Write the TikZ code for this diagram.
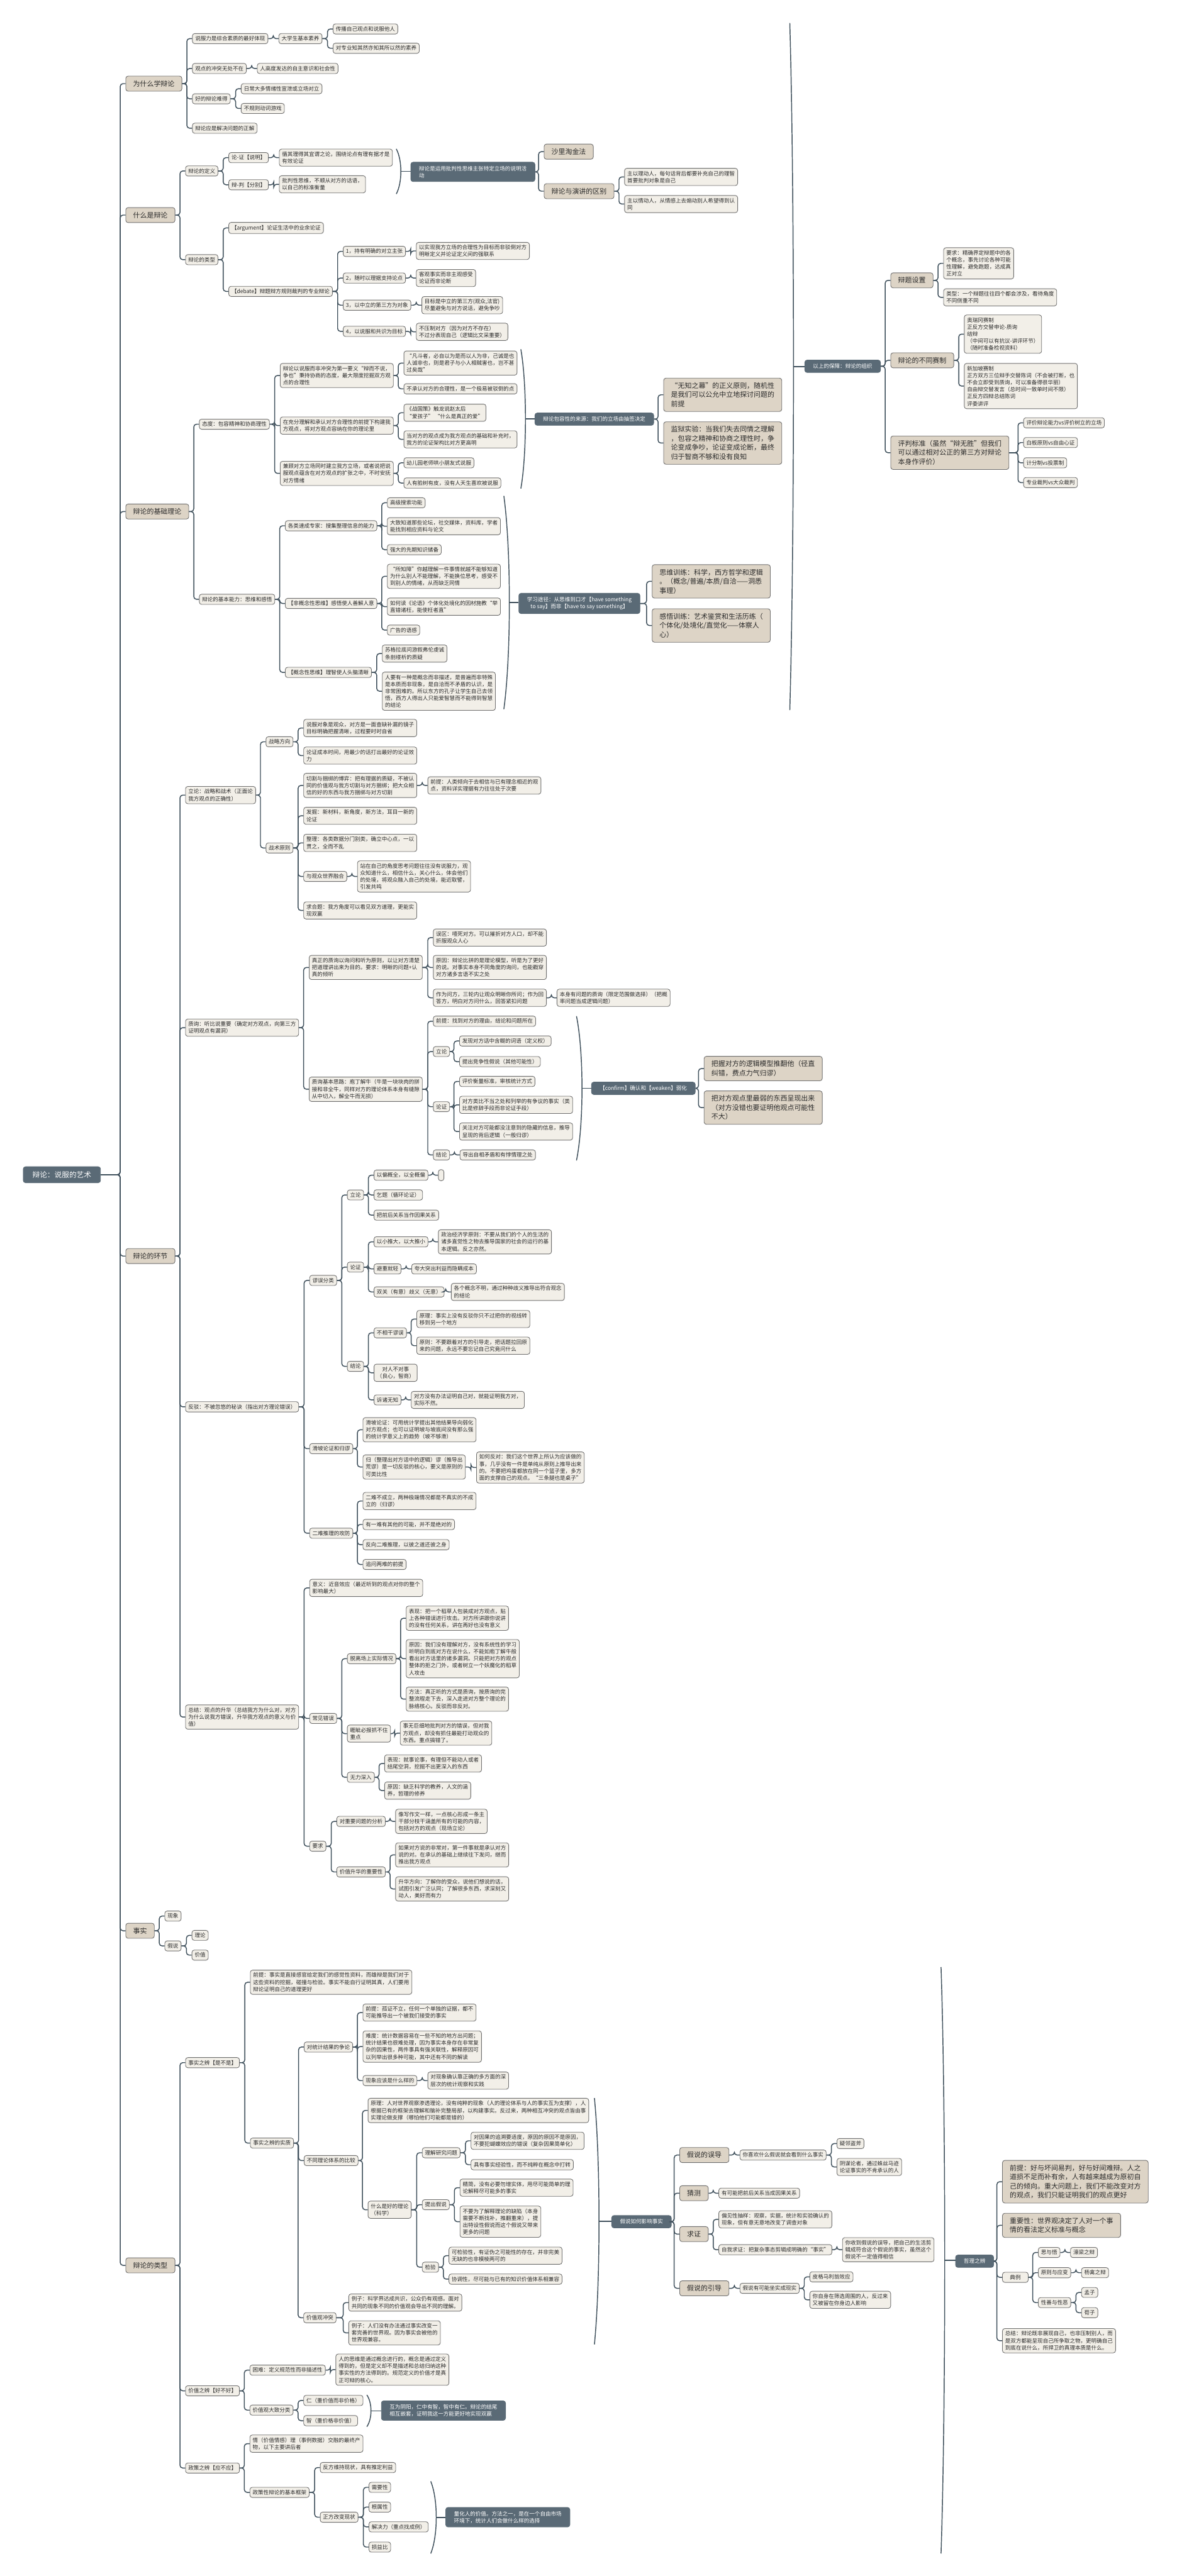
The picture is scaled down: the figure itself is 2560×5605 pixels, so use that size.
\documentclass[tikz,border=0pt]{standalone}
\usepackage{fontspec}
\setmainfont{Noto Sans CJK SC}
\usetikzlibrary{calc}
\definecolor{lightc}{HTML}{F2EFE8}
\definecolor{tanc}{HTML}{DDD4C6}
\definecolor{darkc}{HTML}{5A6A76}
\definecolor{bordc}{HTML}{707070}
\definecolor{linec}{HTML}{3F505C}
\definecolor{txtc}{HTML}{2B2B2B}
\tikzset{
 base/.style={anchor=west, align=left, rounded corners=2.5pt, line width=0.6pt, draw=bordc, text=txtc},
 nd/.style={base, fill=lightc, font=\fontsize{5.85pt}{7.65pt}\selectfont, inner xsep=3pt, inner ysep=2.8pt},
 tn/.style={base, fill=tanc, font=\fontsize{7.5pt}{9.95pt}\selectfont, inner xsep=8pt, inner ysep=4.7pt},
 dk/.style={base, fill=darkc, draw=darkc, text=white, font=\fontsize{5.85pt}{7.65pt}\selectfont, inner xsep=9pt, inner ysep=4pt},
 lk/.style={draw=linec, line width=1pt, rounded corners=3pt},
}
\newcommand\lnk[2]{\draw[lk] (#1.east) -- ($(#1.east -| #2.west)+(-5.75pt,0pt)$) |- (#2.west);}
\newcommand\brk[5]{%
 \coordinate (#1t) at (#2,#3);
 \coordinate (#1b) at (#2,#4);
 \coordinate (#1m) at ({#2+#5},{(#3+#4)/2});
 \draw[lk,rounded corners=0pt] (#1t) .. controls ({#2+1.33*#5},{#3+0.25*(#4-#3)}) and ({#2+1.33*#5},{#4-0.25*(#4-#3)}) .. (#1b);}
\begin{document}
\begin{tikzpicture}[x=0.5pt,y=-0.5pt]
\useasboundingbox (0,0) rectangle (2560,5605);
\fill[white] (0,0) rectangle (2560,5605);
% root
\node[dk, font=\fontsize{8pt}{10pt}\selectfont, inner xsep=10pt, inner ysep=5pt] (root) at (50,2556) {辩论：说服的艺术};
% ---------- 为什么学辩论
\node[tn] (w) at (273,182) {为什么学辩论};
\node[nd] (w1) at (418,84) {说服力是综合素质的最好体现};
\node[nd] (w1a) at (606,84) {大学生基本素养};
\node[nd] (w1a1) at (724,63) {传播自己观点和说服他人};
\node[nd] (w1a2) at (724,105) {对专业知其然亦知其所以然的素养};
\node[nd] (w2) at (418,149) {观点的冲突无处不在};
\node[nd] (w2a) at (559,149) {人高度发达的自主意识和社会性};
\node[nd] (w3) at (418,215) {好的辩论难得};
\node[nd] (w3a) at (524,193) {日常大多情绪性宣泄或立场对立};
\node[nd] (w3b) at (524,236) {不规则动词游戏};
\node[nd] (w4) at (418,279) {辩论应是解决问题的正解};
% ---------- 什么是辩论
\node[tn] (d) at (273,468) {什么是辩论};
\node[nd] (d1) at (403,372) {辩论的定义};
\node[nd] (d1a) at (497,343) {论-证【说明】};
\node[nd] (d1a1) at (607,343) {循其理得其宜谓之论，围绕论点有理有据才是\\有效论证};
\node[nd] (d1b) at (497,402) {辩-判【分别】};
\node[nd] (d1b1) at (607,401) {批判性思维，不顺从对方的话语，\\以自己的标准衡量};
\node[dk] (d1s) at (893,374) {辩论是运用批判性思维主张特定立场的说明活\\动};
\node[tn] (d1s1) at (1183,330) {沙里淘金法};
\node[tn] (d1s2) at (1183,416) {辩论与演讲的区别};
\node[nd] (d1s2a) at (1358,385) {主以理动人，每句话背后都要补充自己的理智\\首要批判对象是自己};
\node[nd] (d1s2b) at (1358,444) {主以情动人，从情感上去煽动别人希望得到认\\同};
\node[nd] (d2) at (403,565) {辩论的类型};
\node[nd] (d2a) at (497,496) {【argument】论证生活中的业余论证};
\node[nd] (d2b) at (497,634) {【debate】辩题辩方规则裁判的专业辩论};
\node[nd] (d2b1) at (746,547) {1，持有明确的对立主张};
\node[nd] (d2b1a) at (905,546) {以实现我方立场的合理性为目标而非驳倒对方\\明晰定义并论证定义间的强联系};
\node[nd] (d2b2) at (746,605) {2，随时以理据支持论点};
\node[nd] (d2b2a) at (905,605) {客观事实而非主观感受\\论证而非论断};
\node[nd] (d2b3) at (746,664) {3，以中立的第三方为对象};
\node[nd] (d2b3a) at (917,664) {目标是中立的第三方(观众,法官)\\尽量避免与对方说话，避免争吵};
\node[nd] (d2b4) at (746,721) {4，以说服和共识为目标};
\node[nd] (d2b4a) at (905,722) {不压制对方（因为对方不存在）\\不过分表现自己（逻辑比文采重要）};
% ---------- 辩论的基础理论
\node[tn] (j) at (273,1113) {辩论的基础理论};
\node[nd] (j1) at (433,923) {态度：包容精神和协商理性};
\node[nd] (j1a) at (609,817) {辩论以说服而非冲突为第一要义“辩而不说，\\争也”秉持协商的态度，最大限度挖掘双方观\\点的合理性};
\node[nd] (j1a1) at (878,790) {“凡斗者，必自以为是而以人为非，己诚是也\\人诚非也，则是君子与小人相贼害也，岂不甚\\过矣哉”};
\node[nd] (j1a2) at (878,846) {不承认对方的合理性，是一个极易被驳倒的点};
\node[nd] (j1b) at (609,926) {在充分理解和承认对方合理性的前提下构建我\\方观点，将对方观点容纳在你的理论里};
\node[nd] (j1b1) at (878,898) {《战国策》触龙说赵太后\\“爱孩子”\ “什么是真正的爱”};
\node[nd] (j1b2) at (878,956) {当对方的观点成为我方观点的基础和补充时，\\我方的论证架构比对方更高明};
\node[nd] (j1c) at (609,1030) {兼顾对方立场同时建立我方立场，或者说把说\\服观点蕴含在对方观点的扩张之中，不时安抚\\对方情绪};
\node[nd] (j1c1) at (878,1007) {幼儿园老师哄小朋友式说服};
\node[nd] (j1c2) at (878,1051) {人有脸树有皮，没有人天生喜欢被说服};
\node[dk] (j1s) at (1163,912) {辩论包容性的来源：我们的立场由抽签决定};
\node[tn] (j1s1) at (1443,859) {“无知之幕”的正义原则，随机性\\是我们可以公允中立地探讨问题的\\前提};
\node[tn] (j1s2) at (1443,964) {监狱实验：当我们失去同情之理解\\，包容之精神和协商之理性时，争\\论变成争吵，论证变成论断，最终\\归于智商不够和没有良知};
\node[nd] (j2) at (433,1304) {辩论的基本能力：思维和感悟};
\node[nd] (j2a) at (620,1144) {各类速成专家：搜集整理信息的能力};
\node[nd] (j2a1) at (842,1094) {高级搜索功能};
\node[nd] (j2a2) at (842,1145) {大致知道那些论坛，社交媒体，资料库，学者\\能找到相应资料与论文};
\node[nd] (j2a3) at (842,1196) {强大的先期知识储备};
\node[nd] (j2b) at (620,1313) {【非概念性思维】感悟使人善解人意};
\node[nd] (j2b1) at (842,1254) {“所知障”你越理解一件事情就越不能够知道\\为什么别人不能理解，不能换位思考，感受不\\到别人的情绪，从而缺乏同情};
\node[nd] (j2b2) at (842,1320) {如何读《论语》个体化处境化的因材施教“举\\直错诸枉，能使枉者直”};
\node[nd] (j2b3) at (842,1371) {广告的语感};
\node[nd] (j2c) at (620,1463) {【概念性思维】理智使人头脑清晰};
\node[nd] (j2c1) at (831,1422) {苏格拉底问游叙弗伦虔诚\\条剖缕析的质疑};
\node[nd] (j2c2) at (831,1504) {人要有一种是概念而非描述，是普遍而非特殊\\是本质而非现象，是自洽而不矛盾的认识，是\\非常困难的。所以东方的孔子让学生自己去领\\悟，西方人得出人只能爱智慧而不能得到智慧\\的结论};
\node[dk, align=center] (j2s) at (1128,1313) {学习途径：从思维到口才【have something\\to say】而非【have to say something】};
\node[tn] (j2s1) at (1418,1265) {思维训练：科学，西方哲学和逻辑\\。（概念/普遍/本质/自洽——洞悉\\事理）};
\node[tn] (j2s2) at (1418,1361) {感悟训练：艺术鉴赏和生活历练（\\个体化/处境化/直觉化——体察人\\心）};
% ---------- right top
\node[dk] (g) at (1750,797) {以上的保障：辩论的组织};
\node[tn] (g1) at (1937,610) {辩题设置};
\node[nd] (g1a) at (2052,573) {要求：精确界定辩题中的各\\个概念，事先讨论各种可能\\性理解，避免跑题，达成真\\正对立};
\node[nd] (g1b) at (2052,647) {类型：一个辩题往往四个都会涉及，看待角度\\不同侧重不同};
\node[tn] (g2) at (1937,784) {辩论的不同赛制};
\node[nd] (g2a) at (2097,727) {奥瑞冈赛制\\正反方交替申论-质询\\结辩\\（中间可以有抗议-讲评环节）\\（随时准备检视资料）};
\node[nd] (g2b) at (2097,840) {新加坡赛制\\正方双方三位辩手交替陈词（不会被打断，也\\不会立即受到质询，可以准备得很华丽）\\自由辩交替发言（总时间一致单时间不限）\\正反方四辩总结陈词\\评委讲评};
\node[tn] (g3) at (1937,985) {评判标准（虽然“辩无胜”但我们\\可以通过相对公正的第三方对辩论\\本身作评价）};
\node[nd] (g3a) at (2226,920) {评价辩论能力vs评价树立的立场};
\node[nd] (g3b) at (2226,963) {白板原则vs自由心证};
\node[nd] (g3c) at (2226,1007) {计分制vs投票制};
\node[nd] (g3d) at (2226,1050) {专业裁判vs大众裁判};
% ---------- 辩论的环节
\node[tn] (h) at (273,2733) {辩论的环节};
\node[nd] (h1) at (403,1730) {立论：战略和战术（正面论\\我方观点的正确性）};
\node[nd] (h1a) at (578,1614) {战略方向};
\node[nd] (h1a1) at (660,1584) {说服对象是观众，对方是一面查缺补漏的镜子\\目标明确把握清晰，过程要时时自省};
\node[nd] (h1a2) at (660,1644) {论证成本时间，用最少的话打出最好的论证效\\力};
\node[nd] (h1b) at (578,1845) {战术原则};
\node[nd] (h1b1) at (660,1709) {切割与捆绑的博弈：把有理据的质疑，不被认\\同的价值观与我方切割与对方捆绑；把大众相\\信的好的东西与我方捆绑与对方切割};
\node[nd] (h1b1a) at (930,1709) {前提：人类倾向于去相信与已有理念相近的观\\点，资料详实理据有力往往处于次要};
\node[nd] (h1b2) at (660,1775) {发掘：新材料，新角度，新方法，耳目一新的\\论证};
\node[nd] (h1b3) at (660,1834) {整理：各类数据分门别类，确立中心点，一以\\贯之，全而不乱};
\node[nd] (h1b4) at (660,1907) {与观众世界融合};
\node[nd] (h1b4a) at (777,1907) {站在自己的角度思考问题往往没有说服力，观\\众知道什么，相信什么，关心什么，体会他们\\的处境，将观众融入自己的处境，能近取譬，\\引发共鸣};
\node[nd] (h1b5) at (660,1981) {求合题：我方角度可以看见双方道理，更能实\\现双赢};
\node[nd] (h2) at (403,2236) {质询：听比说重要（确定对方观点，向第三方\\证明观点有漏洞）};
\node[nd] (h2a) at (672,2105) {真正的质询以询问和听为原则，以让对方清楚\\把道理讲出来为目的。要求：明晰的问题+认\\真的倾听};
\node[nd] (h2a1) at (942,2040) {误区：噎死对方。可以摧折对方人口，却不能\\折服观众人心};
\node[nd] (h2a2) at (942,2105) {原因：辩论比拼的是理论模型，听是为了更好\\的说。对事实本身不同角度的询问，也能戳穿\\对方诸多言语不实之处};
\node[nd] (h2a3) at (942,2171) {作为问方，三轮内让观众明晰你所问；作为回\\答方，明白对方问什么，回答紧扣问题};
\node[nd] (h2a3a) at (1211,2171) {本身有问题的质询（限定范围做选择）（把概\\率问题当成逻辑问题）};
\node[nd] (h2b) at (672,2370) {质询基本思路：庖丁解牛（牛是一块块肉的拼\\接和非全牛，同样对方的理论体系本身有缝隙\\从中切入，解全牛而无损）};
\node[nd] (h2b1) at (942,2222) {前提：找到对方的理由，结论和问题所在};
\node[nd] (h2b2) at (942,2288) {立论};
\node[nd] (h2b2a) at (999,2265) {发现对方话中含糊的词语（定义权）};
\node[nd] (h2b2b) at (999,2310) {提出竞争性假说（其他可能性）};
\node[nd] (h2b3) at (942,2408) {论证};
\node[nd] (h2b3a) at (999,2353) {评价衡量标准，审核统计方式};
\node[nd] (h2b3b) at (999,2404) {对方类比不当之处和列举的有争议的事实（类\\比是修辞手段而非论证手段）};
\node[nd] (h2b3c) at (999,2462) {关注对方可能都没注意到的隐藏的信息，推导\\呈现的背后逻辑（一般归谬）};
\node[nd] (h2b4) at (942,2513) {结论};
\node[nd] (h2b4a) at (1000,2513) {导出自相矛盾和有悖情理之处};
\node[dk] (h2s) at (1286,2368) {【confirm】确认和【weaken】弱化};
\node[tn] (h2s1) at (1531,2325) {把握对方的逻辑模型推翻他（径直\\纠错，费点力气归谬）};
\node[tn] (h2s2) at (1531,2410) {把对方观点里最弱的东西呈现出来\\（对方没错也要证明他观点可能性\\不大）};
\node[nd] (h3) at (403,3061) {反驳：不被忽悠的秘诀（指出对方理论错误）};
\node[nd] (h3a) at (673,2786) {谬误分类};
\node[nd] (h3a1) at (755,2600) {立论};
\node[nd] (h3a1a) at (813,2557) {以偏概全，以全概偏};
\node[nd, minimum width=6pt, minimum height=12pt] (h3a1ax) at (953,2557) {};
\node[nd] (h3a1b) at (813,2600) {乞题（循环论证）};
\node[nd] (h3a1c) at (813,2644) {把前后关系当作因果关系};
\node[nd] (h3a2) at (755,2757) {论证};
\node[nd] (h3a2a) at (813,2702) {以小推大，以大推小};
\node[nd] (h3a2a1) at (953,2702) {政治经济学原则：不要从我们的个人的生活的\\诸多直觉性之物去推导国家的社会的运行的基\\本逻辑。反之亦然。};
\node[nd] (h3a2b) at (813,2761) {避重就轻};
\node[nd] (h3a2b1) at (895,2761) {夸大突出利益而隐瞒成本};
\node[nd] (h3a2c) at (813,2811) {双关（有意）歧义（无意）};
\node[nd] (h3a2c1) at (981,2811) {各个概念不明，通过种种歧义推导出符合观念\\的结论};
\node[nd] (h3a3) at (755,2973) {结论};
\node[nd] (h3a3a) at (813,2900) {不相干谬误};
\node[nd] (h3a3a1) at (906,2870) {原理：事实上没有反驳你只不过把你的视线转\\移到另一个地方};
\node[nd] (h3a3a2) at (906,2928) {原则：不要跟着对方的引导走，把话题拉回原\\来的问题，永远不要忘记自己究竟问什么};
\node[nd, align=center] (h3a3b) at (813,2987) {对人不对事\\（良心，智商）};
\node[nd] (h3a3c) at (813,3046) {诉诸无知};
\node[nd] (h3a3c1) at (894,3046) {对方没有办法证明自己对，就能证明我方对，\\实际不然。};
\node[nd] (h3b) at (673,3152) {滑坡论证和归谬};
\node[nd] (h3b1) at (789,3111) {滑坡论证：可用统计学提出其他结果导向弱化\\对方观点；也可以证明坡与坡底间没有那么强\\的统计学意义上的趋势（坡不够滑）};
\node[nd] (h3b2) at (789,3192) {归（整理出对方话中的逻辑）谬（推导出\\荒谬）是一切反驳的核心，要义是原则的\\可类比性};
\node[nd] (h3b2a) at (1036,3193) {如何反对：我们这个世界上所认为应该做的\\事，几乎没有一件是单纯从原则上推导出来\\的。不要把鸡蛋都放在同一个篮子里，多方\\面的支撑自己的观点。“三条腿也是桌子”};
\node[nd] (h3c) at (673,3336) {二难推理的攻防};
\node[nd] (h3c1) at (789,3266) {二难不成立，两种极端情况都是不真实的不成\\立的（归谬）};
\node[nd] (h3c2) at (789,3317) {有一难有其他的可能，并不是绝对的};
\node[nd] (h3c3) at (789,3361) {反向二难推理，以彼之道还彼之身};
\node[nd] (h3c4) at (789,3404) {追问两难的前提};
\node[nd] (h4) at (403,3736) {总结：观点的升华（总结我方为什么对，对方\\为什么说我方错误，升华我方观点的意义与价\\值）};
\node[nd] (h4a) at (673,3455) {意义：近音效应（最近听到的观点对你的整个\\影响最大）};
\node[nd] (h4b) at (673,3739) {常见错误};
\node[nd] (h4b1) at (755,3609) {脱离场上实际情况};
\node[nd] (h4b1a) at (883,3521) {表现：把一个稻草人包装成对方观点，贴\\上各种错误进行攻击。对方所讲跟你说讲\\的没有任何关系，讲在再好也没有意义};
\node[nd] (h4b1b) at (883,3609) {原因：我们没有理解对方，没有系统性的学习\\听明白到底对方在说什么，不能如庖丁解牛般\\看出对方话里的诸多漏洞。只能把对方的观点\\整体的拒之门外，或者树立一个妖魔化的稻草\\人攻击};
\node[nd] (h4b1c) at (883,3697) {方法：真正听的方式是质询，按质询的完\\整流程走下去，深入走进对方整个理论的\\脉络核心。反驳而非反对。};
\node[nd] (h4b2) at (755,3772) {睚眦必报抓不住\\重点};
\node[nd] (h4b2a) at (870,3771) {事无巨细地批判对方的错误，但对我\\方观点，却没有抓住最能打动观众的\\东西。重点搞错了。};
\node[nd] (h4b3) at (755,3867) {无力深入};
\node[nd] (h4b3a) at (836,3837) {表现：就事论事，有理但不能动人或者\\结尾空洞，挖掘不出更深入的东西};
\node[nd] (h4b3b) at (836,3896) {原因：缺乏科学的教养，人文的涵\\养，哲理的修养};
\node[nd] (h4c) at (673,4017) {要求};
\node[nd] (h4c1) at (732,3963) {对重要问题的分析};
\node[nd] (h4c1a) at (860,3963) {像写作文一样，一点核心形成一条主\\干部分枝干涵盖所有的可能的内容，\\包括对方的观点（现场立论）};
\node[nd] (h4c2) at (732,4073) {价值升华的重要性};
\node[nd] (h4c2a) at (860,4036) {如果对方说的非常对，第一件事就是承认对方\\说的对。在承认的基础上继续往下发问，继而\\推出我方观点};
\node[nd] (h4c2b) at (860,4110) {升华方向：了解你的受众，说他们想说的话，\\试图引发广泛认同；了解很多东西，求深刻又\\动人，美好而有力};
% ---------- 事实
\node[tn] (s) at (273,4201) {事实};
\node[nd] (s1) at (358,4169) {现象};
\node[nd] (s2) at (358,4234) {假说};
\node[nd] (s2a) at (417,4211) {理论};
\node[nd] (s2b) at (417,4254) {价值};
% ---------- 辩论的类型
\node[tn] (t) at (273,4929) {辩论的类型};
\node[nd] (t1) at (403,4488) {事实之辨【是不是】};
\node[nd] (t1a) at (544,4313) {前提：事实是直接感官给定我们的感觉性资料，而雄辩是我们对于\\这些资料的挖掘，碰撞与检验。事实不能自行证明其真，人们要用\\辩论证明自己的道理更好};
\node[nd] (t1b) at (544,4663) {事实之辨的实质};
\node[nd] (t1b1) at (661,4454) {对统计结果的争论};
\node[nd] (t1b1a) at (789,4379) {前提：孤证不立，任何一个单独的证据，都不\\可能推导出一个被我们接受的事实};
\node[nd] (t1b1b) at (789,4453) {难度：统计数据容易在一些不知的地方出问题；\\统计结果也很难处理，因为事实本身存在非常复\\杂的因果性，两件事具有强关联性，解释原因可\\以列举出很多种可能，其中还有不同的解读};
\node[nd] (t1b1c) at (789,4527) {现象应该是什么样的};
\node[nd] (t1b1c1) at (930,4527) {对现象确认靠正确的多方面的深\\层次的统计观察和实践};
\node[nd] (t1b2) at (661,4701) {不同理论体系的比较};
\node[nd] (t1b2a) at (800,4592) {原理：人对世界观察渗透理论，没有纯粹的现象（人的理论体系与人的事实互为支撑），人\\根据已有的框架去理解和脑补完整局部，以构建事实。反过来，两种相互冲突的观点皆由事\\实理论做支撑（哪怕他们可能都是错的）};
\node[nd] (t1b2b) at (800,4808) {什么是好的理论\\（科学）};
\node[nd] (t1b2b1) at (918,4684) {理解研究问题};
\node[nd] (t1b2b1a) at (1024,4658) {对因果的追溯要适度，原因的原因不是原因，\\不要犯蝴蝶效应的错误（复杂因果简单化）};
\node[nd] (t1b2b1b) at (1024,4710) {具有事实经验性，而不纯粹在概念中打转};
\node[nd] (t1b2b2) at (918,4797) {提出假说};
\node[nd] (t1b2b2a) at (1000,4760) {精简，没有必要勿增实体，用尽可能简单的理\\论解释尽可能多的事实};
\node[nd] (t1b2b2b) at (1000,4834) {不要为了解释理论的缺陷（本身\\需要不断找补，推翻重来），提\\出特设性假说而这个假说又带来\\更多的问题};
\node[nd] (t1b2b3) at (918,4933) {检验};
\node[nd] (t1b2b3a) at (976,4908) {可检验性，有证伪之可能性的存在，并非完美\\无缺的也非模棱两可的};
\node[nd] (t1b2b3b) at (976,4959) {协调性，尽可能与已有的知识价值体系相兼容};
\node[nd] (t1b3) at (660,5043) {价值观冲突};
\node[nd] (t1b3a) at (758,5010) {例子：科学界达成共识，公众仍有观感。面对\\共同的现象不同的价值观会导出不同的理解。};
\node[nd] (t1b3b) at (758,5076) {例子：人们没有办法通过事实改变一\\套完善的世界观。因为事实会被他的\\世界观兼容。};
\node[dk] (t1s) at (1330,4834) {假说如何影响事实};
\node[tn] (t1s1) at (1478,4689) {假说的误导};
\node[nd] (t1s1a) at (1609,4689) {你喜欢什么假说就会看到什么事实};
\node[nd] (t1s1a1) at (1820,4664) {疑邻盗斧};
\node[nd] (t1s1a2) at (1820,4715) {阴谋论者，通过蛛丝马迹\\论证事实的不肯承认的人};
\node[tn] (t1s2) at (1478,4772) {猜测};
\node[nd] (t1s2a) at (1563,4772) {有可能把前后关系当成因果关系};
\node[tn] (t1s3) at (1478,4861) {求证};
\node[nd] (t1s3a) at (1563,4829) {偏见性抽样：观察，实据，统计和实验确认的\\现象，但有意无意地改变了调查对象};
\node[nd] (t1s3b) at (1563,4895) {自我求证：把复杂事态剪辑成明确的“事实”};
\node[nd] (t1s3b1) at (1832,4895) {你收到假说的误导，把自己的生活剪\\辑成符合这个假说的事实，虽然这个\\假说不一定值得相信};
\node[tn] (t1s4) at (1478,4979) {假说的引导};
\node[nd] (t1s4a) at (1609,4979) {假说有可能坐实成现实};
\node[nd] (t1s4a1) at (1761,4954) {皮格马利翁效应};
\node[nd] (t1s4a2) at (1761,5004) {你自身在筛选周围的人，反过来\\又被留在你身边人影响};
\node[nd] (t2) at (403,5202) {价值之辨【好不好】};
\node[nd] (t2a) at (543,5157) {困难：定义规范性而非描述性};
\node[nd] (t2a1) at (730,5156) {人的思维是通过概念进行的，概念是通过定义\\得到的，但是定义却不是描述和总结归纳这种\\事实性的方法得到的。规范定义的价值才是真\\正可辩的核心。};
\node[nd] (t2b) at (543,5244) {价值观大致分类};
\node[nd] (t2b1) at (660,5223) {仁（重价值而非价格）};
\node[nd] (t2b2) at (660,5267) {智（重价格非价值）};
\node[dk] (t2s) at (829,5245) {互为阴阳，仁中有智，智中有仁。辩论的结尾\\相互嵌套，证明我这一方能更好地实现双赢};
\node[nd] (t3) at (403,5370) {政策之辨【应不应】};
\node[nd] (t3a) at (543,5317) {情（价值情感）理（事例数据）交融的最终产\\物，以下主要讲后者};
\node[nd] (t3b) at (543,5423) {政策性辩论的基本框架};
\node[nd] (t3b1) at (696,5369) {反方维持现状，具有推定利益};
\node[nd] (t3b2) at (696,5477) {正方改变现状};
\node[nd] (t3b2a) at (802,5412) {需要性};
\node[nd] (t3b2b) at (802,5455) {根属性};
\node[nd] (t3b2c) at (802,5498) {解决力（重点找成例）};
\node[nd] (t3b2d) at (802,5542) {损益比};
\node[dk] (t3s) at (969,5477) {量化人的价值。方法之一，是在一个自由市场\\环境下，统计人们会做什么样的选择};
% ---------- 哲理之辨
\node[dk] (ph) at (2078,4920) {哲理之辨};
\node[tn] (ph1) at (2180,4747) {前提：好与坏间易判，好与好间难辩。人之\\道损不足而补有余，人有越来越成为原初自\\己的倾向。重大问题上，我们不能改变对方\\的观点，我们只能证明我们的观点更好};
\node[tn] (ph2) at (2180,4842) {重要性：世界观决定了人对一个事\\情的看法定义标准与概念};
\node[nd, minimum width=28pt] (ph3) at (2180,4955) {典例};
\node[nd] (ph3a) at (2258,4901) {思与悟};
\node[nd] (ph3a1) at (2328,4901) {濠梁之辩};
\node[nd] (ph3b) at (2258,4945) {原则与应变};
\node[nd] (ph3b1) at (2352,4945) {杨禽之辩};
\node[nd] (ph3c) at (2258,5010) {性善与性恶};
\node[nd] (ph3c1) at (2352,4988) {孟子};
\node[nd] (ph3c2) at (2352,5032) {荀子};
\node[nd] (ph4) at (2180,5093) {总结：辩论既非展现自己，也非压制别人，而\\是双方都能呈现自己所争取之物，更明确自己\\到底在说什么，所捍卫的真理本质是什么。};
% ---------- connectors
\foreach \a/\b in {root/w,root/d,root/j,root/h,root/s,root/t,
 w/w1,w/w2,w/w3,w/w4,w1/w1a,w1a/w1a1,w1a/w1a2,w2/w2a,w3/w3a,w3/w3b,
 d/d1,d/d2,d1/d1a,d1/d1b,d1a/d1a1,d1b/d1b1,d1s/d1s1,d1s/d1s2,d1s2/d1s2a,d1s2/d1s2b,
 d2/d2a,d2/d2b,d2b/d2b1,d2b/d2b2,d2b/d2b3,d2b/d2b4,d2b1/d2b1a,d2b2/d2b2a,d2b3/d2b3a,d2b4/d2b4a,
 j/j1,j/j2,j1/j1a,j1/j1b,j1/j1c,j1a/j1a1,j1a/j1a2,j1b/j1b1,j1b/j1b2,j1c/j1c1,j1c/j1c2,j1s/j1s1,j1s/j1s2,
 j2/j2a,j2/j2b,j2/j2c,j2a/j2a1,j2a/j2a2,j2a/j2a3,j2b/j2b1,j2b/j2b2,j2b/j2b3,j2c/j2c1,j2c/j2c2,j2s/j2s1,j2s/j2s2,
 g/g1,g/g2,g/g3,g1/g1a,g1/g1b,g2/g2a,g2/g2b,g3/g3a,g3/g3b,g3/g3c,g3/g3d,
 h/h1,h/h2,h/h3,h/h4,h1/h1a,h1/h1b,h1a/h1a1,h1a/h1a2,h1b/h1b1,h1b/h1b2,h1b/h1b3,h1b/h1b4,h1b/h1b5,h1b1/h1b1a,h1b4/h1b4a,
 h2/h2a,h2/h2b,h2a/h2a1,h2a/h2a2,h2a/h2a3,h2a3/h2a3a,h2b/h2b1,h2b/h2b2,h2b/h2b3,h2b/h2b4,h2b2/h2b2a,h2b2/h2b2b,h2b3/h2b3a,h2b3/h2b3b,h2b3/h2b3c,h2b4/h2b4a,h2s/h2s1,h2s/h2s2,
 h3/h3a,h3/h3b,h3/h3c,h3a/h3a1,h3a/h3a2,h3a/h3a3,h3a1/h3a1a,h3a1/h3a1b,h3a1/h3a1c,h3a1a/h3a1ax,h3a2/h3a2a,h3a2/h3a2b,h3a2/h3a2c,h3a2a/h3a2a1,h3a2b/h3a2b1,h3a2c/h3a2c1,
 h3a3/h3a3a,h3a3/h3a3b,h3a3/h3a3c,h3a3a/h3a3a1,h3a3a/h3a3a2,h3a3c/h3a3c1,h3b/h3b1,h3b/h3b2,h3b2/h3b2a,h3c/h3c1,h3c/h3c2,h3c/h3c3,h3c/h3c4,
 h4/h4a,h4/h4b,h4/h4c,h4b/h4b1,h4b/h4b2,h4b/h4b3,h4b1/h4b1a,h4b1/h4b1b,h4b1/h4b1c,h4b2/h4b2a,h4b3/h4b3a,h4b3/h4b3b,h4c/h4c1,h4c/h4c2,h4c1/h4c1a,h4c2/h4c2a,h4c2/h4c2b,
 s/s1,s/s2,s2/s2a,s2/s2b,
 t/t1,t/t2,t/t3,t1/t1a,t1/t1b,t1b/t1b1,t1b/t1b2,t1b/t1b3,t1b1/t1b1a,t1b1/t1b1b,t1b1/t1b1c,t1b1c/t1b1c1,t1b2/t1b2a,t1b2/t1b2b,
 t1b2b/t1b2b1,t1b2b/t1b2b2,t1b2b/t1b2b3,t1b2b1/t1b2b1a,t1b2b1/t1b2b1b,t1b2b2/t1b2b2a,t1b2b2/t1b2b2b,t1b2b3/t1b2b3a,t1b2b3/t1b2b3b,t1b3/t1b3a,t1b3/t1b3b,
 t1s/t1s1,t1s/t1s2,t1s/t1s3,t1s/t1s4,t1s1/t1s1a,t1s1a/t1s1a1,t1s1a/t1s1a2,t1s2/t1s2a,t1s3/t1s3a,t1s3/t1s3b,t1s3b/t1s3b1,t1s4/t1s4a,t1s4a/t1s4a1,t1s4a/t1s4a2,
 t2/t2a,t2/t2b,t2a/t2a1,t2b/t2b1,t2b/t2b2,t3/t3a,t3/t3b,t3b/t3b1,t3b/t3b2,t3b2/t3b2a,t3b2/t3b2b,t3b2/t3b2c,t3b2/t3b2d,
 ph/ph1,ph/ph2,ph/ph3,ph/ph4,ph3/ph3a,ph3/ph3b,ph3/ph3c,ph3a/ph3a1,ph3b/ph3b1,ph3c/ph3c1,ph3c/ph3c2}
 {\lnk{\a}{\b}}
% ---------- summary brackets
\brk{BA}{862}{324}{422}{10}
\draw[lk] (BAm) -- (BAm -| d1s.west);
\brk{BB}{1133}{760}{1063}{10}
\draw[lk] (BBm) -- (BBm -| j1s.west);
\brk{BC}{1096}{1079}{1543}{12}
\draw[lk] (BCm) -- (BCm -| j2s.west);
\brk{BD}{1718}{50}{1545}{8}
\draw[lk] (BDm) -- (BDm -| g.west);
\brk{BE}{1254}{2211}{2525}{12}
\draw[lk] (BEm) -- (BEm -| h2s.west);
\brk{BF}{1293}{4565}{5101}{10}
\draw[lk] (BFm) -- (BFm -| t1s.west);
\brk{BG}{798}{5211}{5280}{9}
\draw[lk] (BGm) -- (BGm -| t2s.west);
\brk{BH}{937}{5399}{5556}{12}
\draw[lk] (BHm) -- (BHm -| t3s.west);
\brk{BI}{2047}{4280}{5556}{8}
\draw[lk] (BIm) -- (BIm -| ph.west);
\end{tikzpicture}
\end{document}
